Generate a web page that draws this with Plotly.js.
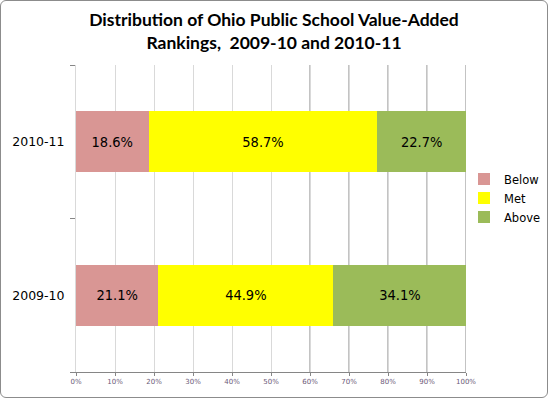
<!DOCTYPE html>
<html>
<head>
<meta charset="utf-8">
<script src="https://cdn.plot.ly/plotly-3.0.1.min.js"></script>
<style>
html,body{margin:0;padding:0;background:#fff;}
#wrap{position:relative;width:548px;height:398px;}
#chart{width:548px;height:398px;}
#frame{position:absolute;left:0;top:0;width:546px;height:396px;border:1px solid #8c8c8c;border-radius:6px;pointer-events:none;}
</style>
</head>
<body>
<div id="wrap"><div id="chart"></div><div id="frame"></div></div>
<script>
const years = ['2009-10', '2010-11'];
const below = [21.1, 18.6];
const met = [44.9, 58.7];
const above = [34.1, 22.7];
const seriesNames = ['Below', 'Met', 'Above'];
const seriesColors = ['#D99694', '#FFFF00', '#9BBB59'];
const xTicks = [0, 10, 20, 30, 40, 50, 60, 70, 80, 90, 100];
const darkGrid = [60, 70, 80, 90, 100];
const titleText = 'Distribution of Ohio Public School Value-Added<br>Rankings,  2009-10 and 2010-11';

const seriesVals = [below, met, above];
const traces = seriesVals.map((vals, i) => ({
  type: 'bar',
  orientation: 'h',
  name: seriesNames[i],
  y: years,
  x: vals,
  width: 0.4,
  marker: {color: seriesColors[i], line: {width: 0}},
  text: vals.map(v => v.toFixed(1) + '%'),
  textposition: 'inside',
  insidetextanchor: 'middle',
  textfont: {family: 'DejaVu Sans Condensed, DejaVu Sans, sans-serif', size: 14.5, color: '#000'},
  hoverinfo: 'none'
}));

const shapes = darkGrid.map(v => ({
  type: 'line', xref: 'x', yref: 'paper', x0: v, x1: v, y0: 0, y1: 1,
  line: {color: '#878787', width: 1}, layer: 'below'
}));

const layout = {
  width: 548, height: 398,
  margin: {l: 76, r: 82, t: 65, b: 26, autoexpand: false},
  paper_bgcolor: '#fff', plot_bgcolor: '#fff',
  barmode: 'stack',
  showlegend: true,
  title: {
    text: titleText,
    font: {family: 'Lato, Carlito, sans-serif', size: 17.5, color: '#000', weight: 'bold'},
    x: 0.5, xanchor: 'center', xref: 'container',
    y: 1 - 26 / 398, yref: 'container', yanchor: 'top'
  },
  xaxis: {
    range: [0, 100], tickvals: xTicks, ticktext: xTicks.map(v => v + '%'),
    showgrid: true, gridcolor: '#d9d9d9', gridwidth: 1,
    showline: true, linecolor: '#868686', linewidth: 1,
    ticks: 'outside', ticklen: 3, tickcolor: '#868686',
    tickfont: {family: 'DejaVu Sans, sans-serif', size: 7, color: '#6b5a78'},
    zeroline: false, fixedrange: true
  },
  yaxis: {
    type: 'category', range: [-0.5, 1.5],
    showline: true, linecolor: '#d9d9d9', linewidth: 1,
    ticks: 'outside', ticklen: 5, tickcolor: '#868686', tickson: 'boundaries',
    tickfont: {family: 'DejaVu Sans, sans-serif', size: 12.5, color: '#000'},
    ticklabelstandoff: 8,
    showgrid: false, zeroline: false, fixedrange: true
  },
  legend: {
    xref: 'container', yref: 'container',
    x: 464 / 548, xanchor: 'left', y: 1 - 198 / 398, yanchor: 'middle',
    traceorder: 'normal', tracegroupgap: 0,
    font: {family: 'DejaVu Sans, sans-serif', size: 11.5, color: '#000'},
    itemwidth: 30, bgcolor: 'rgba(0,0,0,0)'
  },
  shapes: shapes
};

Plotly.newPlot('chart', traces, layout, {displayModeBar: false, staticPlot: true});
</script>
</body>
</html>
